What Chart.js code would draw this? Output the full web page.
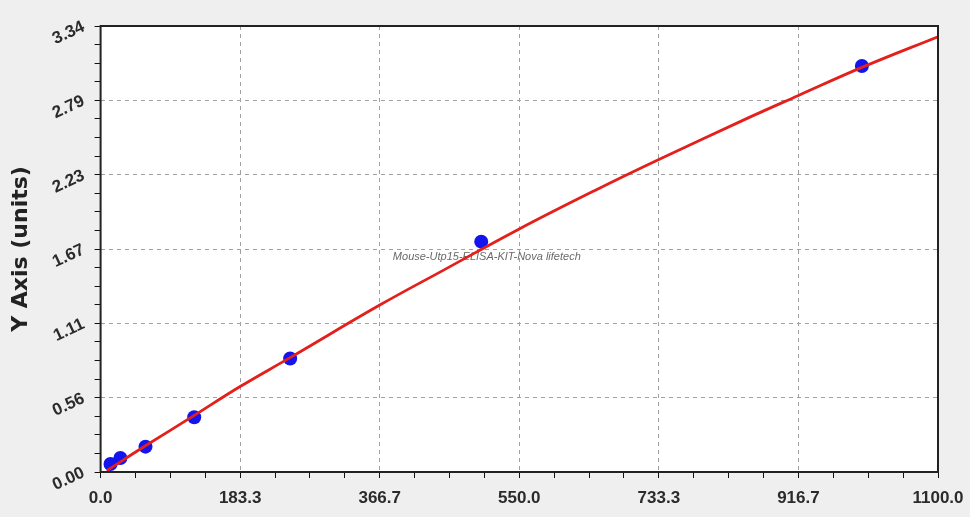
<!DOCTYPE html>
<html>
<head>
<meta charset="utf-8">
<script src="https://cdn.jsdelivr.net/npm/chart.js@4"></script>
<style>
  html, body { margin: 0; padding: 0; background: #efefef; }
  #wrap { width: 970px; height: 517px; }
</style>
</head>
<body>
<div id="wrap"><canvas id="curve" width="970" height="517"></canvas></div>
<script>
// ── Data ──
const stdConc = [13, 26, 59, 123, 249, 500, 1000];
const stdOD   = [0.06, 0.105, 0.19, 0.41, 0.85, 1.725, 3.04];

const fitConc = [8, 60, 122, 183.3, 250, 366.7, 450, 550, 650, 733.3, 850, 916.7, 1000, 1100];
const fitOD   = [0.01, 0.20, 0.42, 0.64, 0.86, 1.25, 1.51, 1.82, 2.11, 2.34, 2.65, 2.82, 3.03, 3.26];

const xMax = 1100;
const yMax = 3.34;
const xTickLabels = ['0.0', '183.3', '366.7', '550.0', '733.3', '916.7', '1100.0'];
const yTickLabels = ['0.00', '0.56', '1.11', '1.67', '2.23', '2.79', '3.34'];
const MINOR = 4;   // minor subdivisions per major step

// ── Helpers ──
function buildTicks(max, majors) {
  const n = (majors.length - 1) * MINOR;
  const out = [];
  for (let i = 0; i <= n; i++) out.push({ value: max * i / n });
  return out;
}

const tickFont = { family: 'Liberation Sans', size: 17, weight: 'bold' };

// white plot area, watermark, frame
const plotFrame = {
  id: 'plotFrame',
  beforeDraw(chart) {
    const a = chart.chartArea, ctx = chart.ctx;
    ctx.save();
    ctx.fillStyle = '#ffffff';
    ctx.fillRect(a.left, a.top, a.right - a.left, a.bottom - a.top);
    ctx.restore();
  },
  beforeDatasetsDraw(chart) {
    const a = chart.chartArea, ctx = chart.ctx;
    ctx.save();
    ctx.font = 'italic 11px "Liberation Sans"';
    ctx.fillStyle = '#6a6a6a';
    ctx.textBaseline = 'middle';
    ctx.fillText('Mouse-Utp15-ELISA-KIT-Nova lifetech',
      a.left + (a.right - a.left) * 0.349, a.top + (a.bottom - a.top) * 0.518);
    ctx.restore();
  },
  afterDraw(chart) {
    const a = chart.chartArea, ctx = chart.ctx;
    ctx.save();
    ctx.strokeStyle = '#222';
    ctx.lineWidth = 2;
    ctx.strokeRect(a.left, a.top, a.right - a.left, a.bottom - a.top);
    ctx.restore();
  }
};

// ── Chart ──
new Chart(document.getElementById('curve'), {
  type: 'scatter',
  data: {
    datasets: [
      {
        label: 'Fit',
        data: fitConc.map((x, i) => ({ x, y: fitOD[i] })),
        showLine: true,
        borderColor: '#e3201b',
        borderWidth: 2.8,
        pointRadius: 0,
        tension: 0.4,
        order: 1,
      },
      {
        label: 'Standards',
        data: stdConc.map((x, i) => ({ x, y: stdOD[i] })),
        backgroundColor: '#1414ee',
        borderWidth: 0,
        pointRadius: 7,
        pointHoverRadius: 7,
        order: 2,
      },
    ],
  },
  options: {
    responsive: false,
    animation: false,
    layout: { padding: { left: 0, right: 32, top: 26, bottom: 0 } },
    plugins: {
      legend: { display: false },
      tooltip: { enabled: false },
    },
    scales: {
      x: {
        type: 'linear',
        min: 0, max: xMax,
        afterBuildTicks: s => { s.ticks = buildTicks(xMax, xTickLabels); },
        afterFit: s => { s.height = 45; s.paddingLeft = 0; s.paddingRight = 0; },
        grid: {
          color: c => (c.index % MINOR === 0 ? '#a0a0a0' : 'rgba(0,0,0,0)'),
          tickColor: '#111',
          tickLength: 6,
          lineWidth: 1,
        },
        border: { display: false, dash: [4, 4] },
        ticks: {
          autoSkip: false,
          maxRotation: 0, minRotation: 0,
          padding: 10,
          color: '#2b2b2b',
          font: tickFont,
          callback: (v, i) => (i % MINOR === 0 ? xTickLabels[i / MINOR] : ''),
        },
      },
      y: {
        type: 'linear',
        min: 0, max: yMax,
        afterBuildTicks: s => { s.ticks = buildTicks(yMax, yTickLabels); },
        afterFit: s => { s.width = 100.6; },
        grid: {
          color: c => (c.index % MINOR === 0 ? '#a0a0a0' : 'rgba(0,0,0,0)'),
          tickColor: '#111',
          tickLength: 6,
          lineWidth: 1,
        },
        border: { display: false, dash: [4, 4] },
        ticks: {
          autoSkip: false,
          minRotation: 25, maxRotation: 25,
          padding: 11,
          color: '#2b2b2b',
          font: tickFont,
          callback: (v, i) => (i % MINOR === 0 ? yTickLabels[i / MINOR] : ''),
        },
        title: {
          display: true,
          text: 'Y Axis (units)',
          color: '#222',
          font: { family: 'DejaVu Sans', size: 22, weight: 'bold' },
          padding: { top: 8, bottom: 0 },
        },
      },
    },
  },
  plugins: [plotFrame],
});
</script>
</body>
</html>
